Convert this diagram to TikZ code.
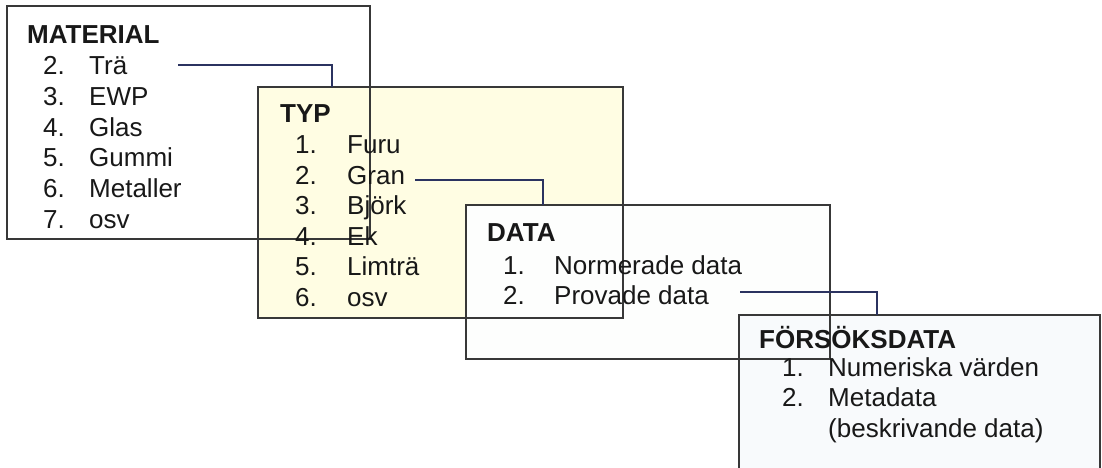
\documentclass[tikz,border=0pt]{standalone}
\usepackage{fontspec}
\setmainfont{Liberation Sans}
\definecolor{edge}{HTML}{383838}
\definecolor{linkc}{HTML}{2B3360}
\definecolor{ink}{HTML}{181818}
\definecolor{typfill}{HTML}{FFFDE3}
\definecolor{datfill}{HTML}{FDFEFD}
\definecolor{forfill}{HTML}{F8FAFC}
\begin{document}
\begin{tikzpicture}[x=1pt,y=-1pt,
  panel/.style={anchor=north west, inner sep=0pt, outer sep=0pt},
  frame/.style={draw=edge, line width=1.25pt},
  link/.style={draw=linkc, line width=2.2pt},
  head/.style={anchor=base west, inner sep=0pt, text=ink,
    font=\bfseries\fontsize{26}{30}\selectfont},
  txt/.style={anchor=base west, inner sep=0pt, text=ink,
    font=\fontsize{26}{30}\selectfont}]

\path[clip] (0,0) rectangle (1102,467);
\fill[white] (0,0) rectangle (1102,467);

% panels, back to front
\node[panel, fill=white,   minimum width=363pt, minimum height=233pt] (mat)  at (7,6) {};
\node[panel, fill=typfill, minimum width=365pt, minimum height=231pt] (typ)  at (258,87) {};
\node[panel, fill=datfill, minimum width=364pt, minimum height=154pt] (dat)  at (466,205) {};
\node[panel, fill=forfill, minimum width=361pt, minimum height=190pt] (fors) at (739,315) {};
\foreach \b in {mat,typ,dat,fors}
  \draw[frame] (\b.north west) rectangle (\b.south east);

% MATERIAL
\node[head] (matT) at (27,43) {MATERIAL};
\foreach \n/\t/\y [count=\i] in {2./Trä/74, 3./EWP/105, 4./Glas/136, 5./Gummi/166, 6./Metaller/197, 7./osv/228}{
  \node[txt] (matN\i) at (43,\y) {\n};
  \node[txt] (matI\i) at (89,\y) {\t};
}

% TYP
\node[head] (typT) at (280,122) {TYP};
\foreach \n/\t/\y [count=\i] in {1./Furu/153, 2./Gran/184, 3./Björk/214, 4./Ek/245, 5./Limträ/275, 6./osv/306}{
  \node[txt] (typN\i) at (295,\y) {\n};
  \node[txt] (typI\i) at (347,\y) {\t};
}

% DATA
\node[head] (datT) at (487,241) {DATA};
\foreach \n/\t/\y [count=\i] in {1./Normerade data/274, 2./Provade data/304}{
  \node[txt] (datN\i) at (503,\y) {\n};
  \node[txt] (datI\i) at (554,\y) {\t};
}

% FÖRSÖKSDATA
\node[head] (forT) at (759,348) {FÖRSÖKSDATA};
\foreach \n/\t/\y [count=\i] in {1./Numeriska värden/376, 2./Metadata/406}{
  \node[txt] (forN\i) at (782,\y) {\n};
  \node[txt] (forI\i) at (828,\y) {\t};
}
\node[txt] (forI3) at (828,437) {(beskrivande data)};

% links from a chosen item to the next panel
\draw[link] ([xshift=51pt,yshift=9pt]matI1.base east) -| ([xshift=74pt]typ.north west);
\draw[link] ([xshift=10pt,yshift=4pt]typI2.base east) -| ([xshift=77pt]dat.north west);
\draw[link] ([xshift=31pt,yshift=12pt]datI2.base east) -| ([xshift=138pt]fors.north west);
\end{tikzpicture}
\end{document}
